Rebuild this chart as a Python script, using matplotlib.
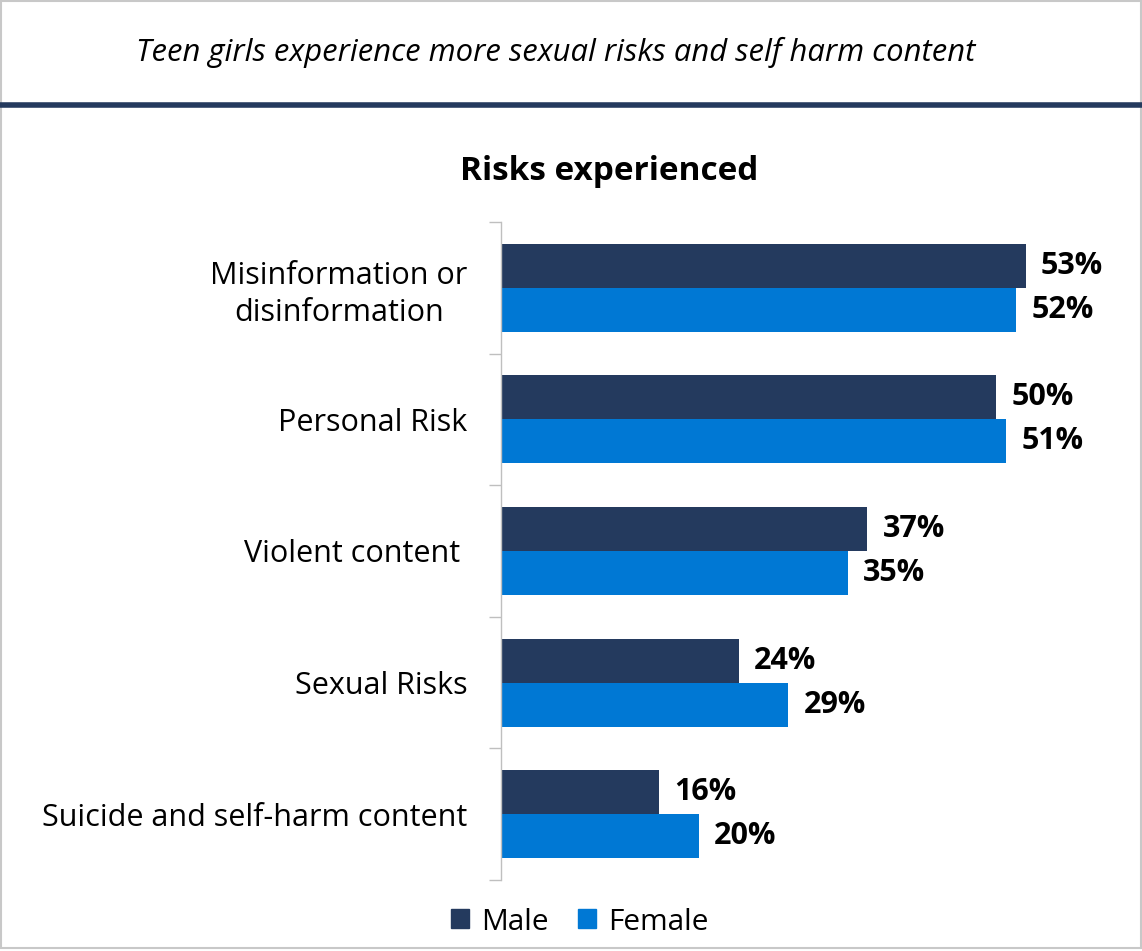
import matplotlib
matplotlib.use('Agg')
import matplotlib.pyplot as plt
import numpy as np
from matplotlib.patches import Rectangle, Patch
from matplotlib.lines import Line2D

CATEGORIAS = ['Misinformation or\ndisinformation', 'Personal Risk', 'Violent content ',
              'Sexual Risks', 'Suicide and self-harm content']
MASCULINO = [53, 50, 37, 24, 16]
FEMININO = [52, 51, 35, 29, 20]
SERIES = ['Male', 'Female']
CORES = {'Male': '#243A5E', 'Female': '#0078D4'}

plt.rcParams['font.family'] = ['Open Sans', 'DejaVu Sans']

W, H = 1142, 951
fig = plt.figure(figsize=(W / 100, H / 100), dpi=100)

# eixo em coordenadas de pixel
esq, dir_, topo, base = 501, 1095, 222, 880
ax = fig.add_axes([esq / W, 1 - base / H, (dir_ - esq) / W, (base - topo) / H])

y = np.arange(len(CATEGORIAS))
h = 0.334
ax.barh(y - h / 2, MASCULINO, height=h, color=CORES['Male'], label='Male')
ax.barh(y + h / 2, FEMININO, height=h, color=CORES['Female'], label='Female')

for i, (m, f) in enumerate(zip(MASCULINO, FEMININO)):
    ax.annotate(f'{m}%', (m, i - h / 2), xytext=(11, 0), textcoords='offset points',
                ha='left', va='center', fontsize=22, fontweight='bold', color='black')
    ax.annotate(f'{f}%', (f, i + h / 2), xytext=(11, 0), textcoords='offset points',
                ha='left', va='center', fontsize=22, fontweight='bold', color='black')

ax.set_xlim(0, 60)
ax.set_ylim(len(CATEGORIAS) - 0.5, -0.5)
ax.set_xticks([])
ax.set_yticks(np.arange(len(CATEGORIAS) + 1) - 0.5, minor=False)
ax.set_yticklabels([])
ax.set_yticks(y, minor=True)
ax.set_yticklabels(CATEGORIAS, minor=True, fontsize=22)
ax.tick_params(axis='y', which='major', length=9, color='#BFBFBF', width=1)
ax.tick_params(axis='y', which='minor', length=0, pad=24)
for lbl in ax.get_yticklabels(minor=True):
    lbl.set_multialignment('center')
    lbl.set_linespacing(1.3)
for s in ['top', 'right', 'bottom']:
    ax.spines[s].set_visible(False)
ax.spines['left'].set_color('#BFBFBF')
ax.spines['left'].set_linewidth(1)

# títulos
fig.text(556 / W, 1 - 52 / H, 'Teen girls experience more sexual risks and self harm content',
         ha='center', va='center', fontsize=22.3, style='italic')
fig.text(609 / W, 1 - 172 / H, 'Risks experienced', ha='center', va='center',
         fontsize=24, fontweight='bold')

# linha separadora e moldura
fig.add_artist(Line2D([1 / W, 1], [1 - 104.5 / H, 1 - 104.5 / H], color='#243A5E', linewidth=4))
fig.add_artist(Rectangle((0.5 / W, 3 / H), 1 - 1.5 / W, 1 - 3.5 / H, transform=fig.transFigure,
                         fill=False, edgecolor='#C8C8C8', linewidth=1.5))

handles = [Patch(color=CORES[s], label=s) for s in SERIES]
fig.legend(handles=handles, loc='center', bbox_to_anchor=(580 / W, 1 - 922 / H), ncol=2,
           frameon=False, fontsize=21.5, handlelength=0.6, handleheight=0.6,
           handletextpad=0.4, columnspacing=1.0)

fig.savefig('out.png', dpi=100)
